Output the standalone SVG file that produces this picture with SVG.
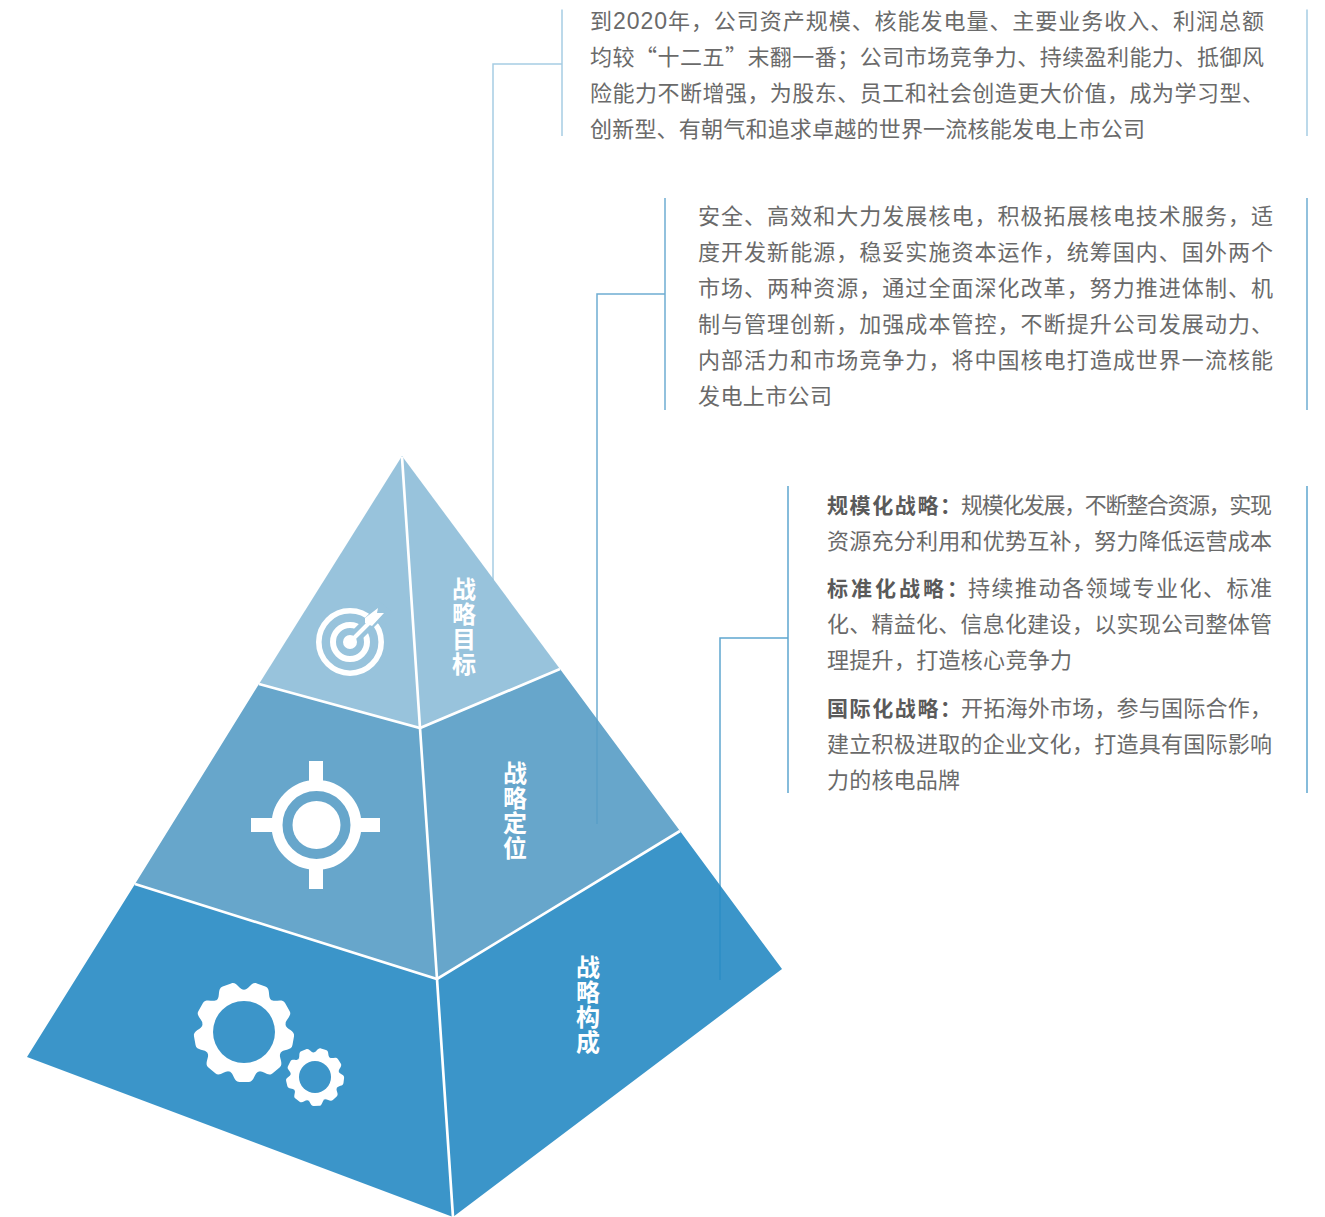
<svg xmlns="http://www.w3.org/2000/svg" width="1325" height="1217" viewBox="0 0 1325 1217">
<style>
text{font-family:"Noto Sans CJK SC","Noto Sans",sans-serif}
.t{font-size:22px;fill:#6a6a6a;font-weight:400}
.n{font-family:"Liberation Sans",sans-serif;font-size:23px}
.b{font-size:21px;fill:#5a5a5a;font-weight:700}
.v{font-size:24px;fill:#fff;font-weight:700;text-anchor:middle}
.sep{stroke:#fff;stroke-width:2.7;fill:none}
.c1{stroke:#a6cde3;stroke-width:1.5;fill:none}
.c2{stroke:#6fadd2;stroke-width:1.5;fill:none}
.c3{stroke:#5fa6cf;stroke-width:1.5;fill:none}
.w{fill:#fff}
</style>
<defs>
<path id="tooth" fill="#fff" d="M-14.4 -39.5C-10 -41.1 -10.5 -50.2 -4.5 -50L4.5 -50C10.5 -50.2 10 -41.1 14.4 -39.5Z"/>
<g id="gear">
<circle r="42.2" fill="#fff"/>
<use href="#tooth" transform="rotate(20)"/>
<use href="#tooth" transform="rotate(60)"/>
<use href="#tooth" transform="rotate(100)"/>
<use href="#tooth" transform="rotate(140)"/>
<use href="#tooth" transform="rotate(180)"/>
<use href="#tooth" transform="rotate(220)"/>
<use href="#tooth" transform="rotate(260)"/>
<use href="#tooth" transform="rotate(300)"/>
<use href="#tooth" transform="rotate(340)"/>
</g>
</defs>
<g id="connectors">
<path class="c1" d="M562 9.5V136M562 64H493V580M1307 9.5V136"/>
<path class="c2" d="M665 198V410M665 294H597V824M1307 198V410"/>
<path class="c3" d="M788 486V793M788 638H720V980M1307 486V793"/>
</g>
<g id="tier-goal">
<polygon points="402,456 560,669 420,728 259,684" fill="#8dbcd8" fill-opacity=".9"/>
<g fill="none" stroke="#fff">
<circle cx="350" cy="642" r="31.2" stroke-width="5.6"/>
<circle cx="350" cy="642" r="17" stroke-width="6"/>
</g>
<circle class="w" cx="350" cy="642" r="7"/>
<path d="M356 636L374 618" stroke="#98c3dc" stroke-width="13" fill="none"/>
<polygon points="367,611 378,600 392,612 383,629" fill="#98c3dc"/>
<path d="M350 642L370 622" stroke="#fff" stroke-width="4" fill="none"/>
<polygon class="w" points="365,618 378,608 377,613 384,613 372,626 365,623"/>
<text class="v" x="464 464 464 464" y="598 623 648 673">战略目标</text>
</g>
<g id="tier-position">
<polygon points="259,684 420,728 560,669 680,831 437,979 135,884" fill="#579cc5" fill-opacity=".9"/>
<rect class="w" x="309" y="761" width="14" height="20"/>
<rect class="w" x="309" y="869" width="14" height="20"/>
<rect class="w" x="251" y="818" width="21" height="14"/>
<rect class="w" x="360" y="818" width="20" height="14"/>
<circle cx="316.5" cy="825" r="39.5" fill="none" stroke="#fff" stroke-width="11"/>
<circle class="w" cx="316.5" cy="825" r="24"/>
<text class="v" x="515 515 515 515" y="782 807 832 857">战略定位</text>
</g>
<g id="tier-composition">
<polygon points="135,884 437,979 680,831 782,969 453,1217 27,1057" fill="#2689c3" fill-opacity=".9"/>
<use href="#gear" transform="translate(244,1032)"/>
<circle cx="244" cy="1032" r="31" fill="#3c95c9"/>
<use href="#gear" transform="translate(315,1077) rotate(-3) scale(.58)"/>
<circle cx="315" cy="1077" r="16" fill="#3c95c9"/>
<text class="v" x="588 588 588 588" y="976 1001 1026 1051">战略构成</text>
</g>
<g id="separators">
<path class="sep" d="M402 457L420 728L437 979L453 1217"/>
<path class="sep" d="M259 684L420 728L560 669"/>
<path class="sep" d="M135 884L437 979L680 831"/>
</g>
<g id="text-goal">
<text class="t" x="590" y="29" textLength="674">到<tspan class="n">2020</tspan>年，公司资产规模、核能发电量、主要业务收入、利润总额</text>
<text class="t" x="590" y="65" textLength="674">均较“十二五”末翻一番；公司市场竞争力、持续盈利能力、抵御风</text>
<text class="t" x="590" y="101" textLength="674">险能力不断增强，为股东、员工和社会创造更大价值，成为学习型、</text>
<text class="t" x="590" y="137" textLength="555">创新型、有朝气和追求卓越的世界一流核能发电上市公司</text>
</g>
<g id="text-position">
<text class="t" x="698" y="224" textLength="575">安全、高效和大力发展核电，积极拓展核电技术服务，适</text>
<text class="t" x="698" y="260" textLength="575">度开发新能源，稳妥实施资本运作，统筹国内、国外两个</text>
<text class="t" x="698" y="296" textLength="575">市场、两种资源，通过全面深化改革，努力推进体制、机</text>
<text class="t" x="698" y="332" textLength="575">制与管理创新，加强成本管控，不断提升公司发展动力、</text>
<text class="t" x="698" y="368" textLength="575">内部活力和市场竞争力，将中国核电打造成世界一流核能</text>
<text class="t" x="698" y="404" textLength="134">发电上市公司</text>
</g>
<g id="text-composition">
<text class="b" x="827" y="513" textLength="134">规模化战略：</text>
<text class="t" x="961" y="513" textLength="311">规模化发展，不断整合资源，实现</text>
<text class="t" x="827" y="549" textLength="445">资源充分利用和优势互补，努力降低运营成本</text>
<text class="b" x="827" y="596" textLength="141">标准化战略：</text>
<text class="t" x="968" y="596" textLength="304">持续推动各领域专业化、标准</text>
<text class="t" x="827" y="632" textLength="445">化、精益化、信息化建设，以实现公司整体管</text>
<text class="t" x="827" y="668" textLength="245">理提升，打造核心竞争力</text>
<text class="b" x="827" y="716" textLength="134">国际化战略：</text>
<text class="t" x="961" y="716" textLength="311">开拓海外市场，参与国际合作，</text>
<text class="t" x="827" y="752" textLength="445">建立积极进取的企业文化，打造具有国际影响</text>
<text class="t" x="827" y="788" textLength="133">力的核电品牌</text>
</g>
</svg>
